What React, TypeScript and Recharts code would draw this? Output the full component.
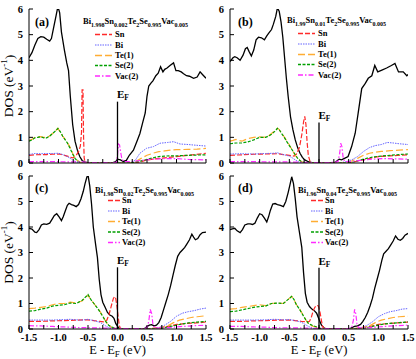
import React from 'react';
import { LineChart, Line, XAxis, YAxis, ReferenceLine, ReferenceDot, Legend } from 'recharts';

type P = [number, number][];

const xTicks = [-1.5, -1.25, -1, -0.75, -0.5, -0.25, 0, 0.25, 0.5, 0.75, 1, 1.25, 1.5];
const yTicks = [0, 1, 2, 3, 4, 5, 6];

// ---------- panel (a) ----------
const totalA: P = [[-1.5,4.1],[-1.45,4.3],[-1.4,4.6],[-1.35,4.85],[-1.3,4.92],[-1.25,4.9],[-1.2,4.82],[-1.15,4.75],[-1.12,4.85],[-1.08,5.3],[-1.04,5.75],[-1.01,6.1],[-0.98,5.85],[-0.95,5.1],[-0.9,4.4],[-0.86,3.9],[-0.83,3.6],[-0.8,2.6],[-0.76,1.5],[-0.72,0.85],[-0.68,0.5],[-0.64,0.25],[-0.6,0.1],[-0.55,0.03],[-0.5,0.01],[-0.4,0],[-0.1,0],[-0.03,0.05],[0,0.15],[0.05,0.12],[0.1,0.06],[0.15,0.1],[0.2,0.3],[0.27,0.5],[0.33,0.85],[0.38,1.15],[0.43,1.6],[0.47,1.95],[0.5,2.6],[0.53,3.0],[0.57,3.12],[0.6,3.2],[0.65,3.4],[0.69,3.5],[0.73,3.75],[0.77,3.55],[0.8,3.65],[0.84,3.7],[0.89,3.8],[0.95,3.9],[0.99,3.6],[1.03,3.6],[1.08,3.55],[1.12,3.48],[1.17,3.4],[1.22,3.38],[1.29,3.3],[1.35,3.35],[1.4,3.55],[1.44,3.45],[1.5,3.3]];
const snA: P = [[-1.5,0.3],[-1.4,0.32],[-1.3,0.33],[-1.2,0.33],[-1.1,0.34],[-1.0,0.35],[-0.95,0.33],[-0.9,0.3],[-0.85,0.27],[-0.8,0.22],[-0.75,0.2],[-0.7,0.3],[-0.66,0.45],[-0.63,0.65],[-0.61,1.2],[-0.6,2.85],[-0.585,2.85],[-0.575,1.0],[-0.565,0.2],[-0.55,0.03],[-0.5,0],[0.3,0],[0.4,0.05],[0.5,0.12],[0.6,0.15],[0.8,0.2],[1.0,0.25],[1.2,0.3],[1.5,0.38]];
const biA: P = [[-1.5,0.33],[-1.4,0.37],[-1.3,0.36],[-1.2,0.37],[-1.1,0.37],[-1.0,0.38],[-0.95,0.35],[-0.9,0.3],[-0.85,0.25],[-0.8,0.18],[-0.75,0.1],[-0.7,0.04],[-0.65,0.01],[-0.6,0],[0.2,0],[0.3,0.1],[0.38,0.38],[0.49,0.57],[0.61,0.64],[0.72,0.77],[0.85,0.8],[0.95,0.83],[1.06,0.74],[1.2,0.72],[1.29,0.7],[1.4,0.68],[1.5,0.66]];
const teA: P = [[-1.5,0.88],[-1.45,0.92],[-1.4,1.0],[-1.35,1.02],[-1.3,1.03],[-1.25,1.0],[-1.2,1.0],[-1.15,1.05],[-1.1,1.15],[-1.05,1.25],[-1.01,1.35],[-0.97,1.2],[-0.93,1.05],[-0.88,0.9],[-0.85,0.8],[-0.8,0.6],[-0.76,0.38],[-0.72,0.2],[-0.68,0.1],[-0.63,0.03],[-0.58,0],[0.2,0],[0.3,0.05],[0.4,0.18],[0.5,0.3],[0.6,0.38],[0.7,0.44],[0.8,0.47],[0.9,0.5],[1.0,0.52],[1.2,0.53],[1.35,0.54],[1.5,0.57]];
const seA: P = [[-1.5,0.85],[-1.45,0.9],[-1.4,0.98],[-1.35,1.0],[-1.3,1.02],[-1.25,0.98],[-1.2,0.98],[-1.15,1.05],[-1.1,1.15],[-1.05,1.25],[-1.01,1.35],[-0.97,1.22],[-0.93,1.05],[-0.88,0.88],[-0.85,0.78],[-0.8,0.55],[-0.76,0.35],[-0.72,0.18],[-0.68,0.08],[-0.63,0.02],[-0.58,0],[0.2,0],[0.3,0.03],[0.4,0.08],[0.5,0.14],[0.6,0.2],[0.7,0.25],[0.8,0.27],[0.9,0.28],[1.0,0.28],[1.2,0.3],[1.35,0.31],[1.5,0.32]];
const vacA: P = [[-1.5,0.05],[-1.0,0.05],[-0.6,0.04],[-0.5,0.02],[-0.1,0.01],[-0.02,0.02],[0,0.3],[0.015,0.74],[0.035,0.7],[0.055,0.4],[0.075,0.15],[0.11,0.05],[0.2,0.05],[0.4,0.1],[0.6,0.15],[0.8,0.17],[1.0,0.17],[1.2,0.14],[1.5,0.12]];

// ---------- panel (b) ----------
const totalB: P = [[-1.5,3.95],[-1.45,4.1],[-1.42,4.14],[-1.38,4.1],[-1.33,4.0],[-1.28,4.2],[-1.24,4.45],[-1.21,4.5],[-1.18,4.35],[-1.14,4.17],[-1.1,4.4],[-1.06,4.8],[-1.02,4.9],[-0.97,4.88],[-0.92,4.8],[-0.88,4.95],[-0.85,5.05],[-0.8,5.2],[-0.77,5.4],[-0.73,5.7],[-0.7,6.05],[-0.67,5.9],[-0.64,5.5],[-0.61,4.9],[-0.58,4.1],[-0.55,3.3],[-0.52,2.6],[-0.48,1.8],[-0.44,1.3],[-0.4,0.9],[-0.36,0.6],[-0.32,0.38],[-0.28,0.22],[-0.24,0.12],[-0.18,0.05],[-0.12,0.01],[-0.05,0],[0.25,0],[0.3,0.08],[0.34,0.15],[0.38,0.12],[0.43,0.18],[0.49,0.25],[0.55,0.64],[0.61,1.16],[0.66,1.94],[0.72,2.9],[0.78,3.1],[0.83,3.3],[0.89,3.4],[0.94,3.8],[0.99,3.55],[1.06,3.62],[1.14,3.7],[1.22,3.8],[1.28,3.88],[1.34,3.55],[1.42,3.55],[1.48,3.4],[1.5,3.45]];
const snB: P = [[-1.5,0.3],[-1.3,0.32],[-1.1,0.34],[-0.9,0.35],[-0.7,0.36],[-0.6,0.33],[-0.5,0.3],[-0.42,0.27],[-0.38,0.35],[-0.33,0.6],[-0.29,1.1],[-0.26,1.6],[-0.24,1.82],[-0.22,1.5],[-0.2,0.8],[-0.18,0.3],[-0.15,0.05],[-0.1,0],[0.5,0],[0.6,0.05],[0.7,0.1],[0.8,0.15],[0.9,0.2],[1.0,0.25],[1.2,0.28],[1.5,0.32]];
const biB: P = [[-1.5,0.35],[-1.3,0.36],[-1.1,0.35],[-0.9,0.37],[-0.75,0.38],[-0.7,0.4],[-0.65,0.35],[-0.55,0.3],[-0.5,0.27],[-0.45,0.2],[-0.4,0.12],[-0.35,0.05],[-0.3,0.02],[-0.25,0],[0.35,0],[0.45,0.05],[0.55,0.12],[0.65,0.25],[0.75,0.45],[0.85,0.6],[0.95,0.68],[1.05,0.72],[1.15,0.8],[1.25,0.78],[1.35,0.75],[1.5,0.72]];
const teB: P = [[-1.5,0.85],[-1.45,0.88],[-1.4,0.92],[-1.35,0.88],[-1.3,0.85],[-1.25,0.9],[-1.2,0.95],[-1.1,1.0],[-1.0,1.02],[-0.95,1.0],[-0.9,1.02],[-0.85,1.05],[-0.8,1.15],[-0.75,1.25],[-0.7,1.35],[-0.67,1.3],[-0.63,1.15],[-0.58,1.0],[-0.54,0.85],[-0.5,0.7],[-0.45,0.5],[-0.4,0.3],[-0.35,0.15],[-0.3,0.06],[-0.25,0.02],[-0.2,0],[0.45,0],[0.55,0.08],[0.65,0.18],[0.75,0.3],[0.85,0.38],[0.95,0.42],[1.05,0.45],[1.2,0.48],[1.35,0.5],[1.5,0.52]];
const seB: P = [[-1.5,0.75],[-1.4,0.78],[-1.3,0.78],[-1.2,0.82],[-1.1,0.9],[-1.0,1.0],[-0.95,1.0],[-0.9,1.0],[-0.85,1.05],[-0.8,1.12],[-0.75,1.22],[-0.7,1.35],[-0.67,1.3],[-0.63,1.15],[-0.58,0.98],[-0.54,0.82],[-0.5,0.68],[-0.45,0.5],[-0.4,0.32],[-0.35,0.15],[-0.3,0.06],[-0.25,0.02],[-0.2,0],[0.5,0],[0.6,0.05],[0.7,0.12],[0.8,0.18],[0.9,0.23],[1.0,0.26],[1.2,0.3],[1.35,0.33],[1.5,0.35]];
const vacB: P = [[-1.5,0.05],[-1.0,0.05],[-0.5,0.04],[-0.2,0.02],[0.2,0.02],[0.32,0.05],[0.35,0.4],[0.365,0.77],[0.385,0.65],[0.405,0.25],[0.43,0.06],[0.5,0.05],[0.7,0.1],[0.9,0.15],[1.1,0.17],[1.3,0.16],[1.5,0.15]];

// ---------- panel (c) ----------
const totalC: P = [[-1.5,3.95],[-1.45,3.92],[-1.4,3.8],[-1.37,3.78],[-1.33,3.9],[-1.29,4.08],[-1.25,4.12],[-1.2,4.1],[-1.15,4.15],[-1.11,4.3],[-1.07,4.45],[-1.03,4.52],[-0.99,4.4],[-0.95,4.25],[-0.92,4.4],[-0.89,4.6],[-0.85,4.85],[-0.82,4.93],[-0.78,4.88],[-0.74,4.85],[-0.7,4.8],[-0.66,4.88],[-0.62,5.1],[-0.58,5.4],[-0.55,5.7],[-0.52,5.95],[-0.5,6.05],[-0.47,5.6],[-0.44,4.9],[-0.41,4.0],[-0.37,3.3],[-0.34,2.8],[-0.31,1.95],[-0.28,1.35],[-0.25,1.05],[-0.21,0.85],[-0.17,0.65],[-0.13,0.55],[-0.09,0.5],[-0.06,0.42],[-0.03,0.22],[0,0.1],[0.03,0.03],[0.06,0],[0.45,0],[0.5,0.1],[0.54,0.15],[0.58,0.17],[0.62,0.12],[0.66,0.15],[0.7,0.25],[0.74,0.45],[0.78,0.75],[0.82,1.05],[0.86,1.35],[0.9,1.7],[0.94,2.1],[0.98,2.5],[1.02,2.85],[1.06,3.0],[1.1,3.1],[1.14,3.2],[1.18,3.35],[1.22,3.5],[1.26,3.72],[1.29,3.6],[1.32,3.5],[1.36,3.55],[1.4,3.7],[1.44,3.78],[1.5,3.8]];
const snC: P = [[-1.5,0.3],[-1.3,0.3],[-1.1,0.32],[-0.9,0.33],[-0.7,0.35],[-0.5,0.36],[-0.4,0.33],[-0.3,0.3],[-0.22,0.28],[-0.18,0.35],[-0.14,0.6],[-0.1,0.95],[-0.07,1.2],[-0.05,1.27],[-0.03,1.2],[-0.01,0.9],[0.01,0.5],[0.03,0.15],[0.05,0.02],[0.08,0],[0.5,0],[0.7,0.05],[0.9,0.12],[1.0,0.18],[1.2,0.22],[1.4,0.25],[1.5,0.28]];
const biC: P = [[-1.5,0.35],[-1.3,0.35],[-1.1,0.35],[-0.9,0.37],[-0.8,0.38],[-0.7,0.36],[-0.6,0.35],[-0.5,0.38],[-0.4,0.33],[-0.3,0.26],[-0.25,0.2],[-0.2,0.12],[-0.15,0.06],[-0.1,0.03],[-0.05,0.01],[0,0],[0.6,0],[0.7,0.05],[0.8,0.15],[0.9,0.3],[1.0,0.5],[1.1,0.62],[1.2,0.68],[1.3,0.72],[1.4,0.78],[1.5,0.82]];
const teC: P = [[-1.5,0.8],[-1.4,0.82],[-1.3,0.85],[-1.2,0.88],[-1.1,0.95],[-1.0,1.0],[-0.9,1.0],[-0.8,1.05],[-0.7,1.02],[-0.6,1.1],[-0.5,1.33],[-0.45,1.15],[-0.4,1.0],[-0.35,0.85],[-0.3,0.7],[-0.25,0.5],[-0.2,0.3],[-0.15,0.15],[-0.1,0.07],[-0.05,0.03],[0,0],[0.65,0],[0.75,0.05],[0.85,0.12],[0.95,0.25],[1.05,0.35],[1.15,0.4],[1.25,0.45],[1.35,0.48],[1.5,0.52]];
const seC: P = [[-1.5,0.7],[-1.4,0.72],[-1.3,0.78],[-1.2,0.82],[-1.1,0.9],[-1.0,0.93],[-0.9,0.95],[-0.8,1.02],[-0.7,1.0],[-0.6,1.12],[-0.5,1.35],[-0.45,1.15],[-0.4,1.0],[-0.35,0.85],[-0.3,0.68],[-0.25,0.5],[-0.2,0.3],[-0.15,0.15],[-0.1,0.08],[-0.05,0.04],[0,0.02],[0.05,0],[0.7,0],[0.8,0.05],[0.9,0.1],[1.0,0.15],[1.1,0.2],[1.2,0.24],[1.35,0.27],[1.5,0.3]];
const vacC: P = [[-1.5,0.13],[-1.3,0.12],[-1.1,0.1],[-0.9,0.08],[-0.7,0.06],[-0.5,0.05],[-0.3,0.04],[-0.1,0.03],[0.1,0.02],[0.45,0.02],[0.5,0.05],[0.53,0.3],[0.555,0.77],[0.58,0.6],[0.6,0.2],[0.63,0.05],[0.7,0.04],[0.9,0.06],[1.1,0.1],[1.3,0.13],[1.5,0.15]];

// ---------- panel (d) ----------
const totalD: P = [[-1.5,3.9],[-1.46,3.93],[-1.42,3.95],[-1.38,3.85],[-1.33,3.78],[-1.29,3.9],[-1.25,4.08],[-1.2,4.12],[-1.16,4.12],[-1.12,4.1],[-1.08,4.15],[-1.04,4.35],[-1.0,4.52],[-0.96,4.48],[-0.92,4.35],[-0.88,4.2],[-0.85,4.4],[-0.82,4.65],[-0.78,4.9],[-0.74,4.92],[-0.7,4.88],[-0.65,4.85],[-0.6,4.8],[-0.56,5.0],[-0.52,5.35],[-0.49,5.65],[-0.46,5.97],[-0.43,5.7],[-0.4,5.1],[-0.37,4.4],[-0.33,3.8],[-0.29,3.2],[-0.26,2.2],[-0.23,1.4],[-0.2,1.05],[-0.16,0.88],[-0.12,0.78],[-0.08,0.72],[-0.04,0.62],[0,0.38],[0.04,0.16],[0.08,0.05],[0.12,0.01],[0.16,0],[0.5,0],[0.55,0.05],[0.6,0.1],[0.65,0.12],[0.7,0.18],[0.74,0.3],[0.78,0.45],[0.82,0.65],[0.86,0.9],[0.9,1.2],[0.94,1.6],[0.98,1.95],[1.02,2.3],[1.06,2.7],[1.09,2.95],[1.13,3.05],[1.17,3.15],[1.21,3.3],[1.25,3.45],[1.29,3.65],[1.33,3.52],[1.37,3.48],[1.41,3.55],[1.45,3.68],[1.5,3.75]];
const snD: P = [[-1.5,0.3],[-1.3,0.3],[-1.1,0.32],[-0.9,0.33],[-0.7,0.35],[-0.5,0.35],[-0.4,0.33],[-0.3,0.3],[-0.2,0.28],[-0.16,0.3],[-0.13,0.45],[-0.1,0.7],[-0.07,0.85],[-0.04,0.93],[-0.01,0.9],[0.02,0.62],[0.04,0.35],[0.06,0.1],[0.09,0.02],[0.12,0],[0.5,0],[0.7,0.05],[0.9,0.12],[1.0,0.18],[1.2,0.22],[1.4,0.25],[1.5,0.27]];
const biD: P = [[-1.5,0.35],[-1.3,0.35],[-1.1,0.35],[-0.9,0.36],[-0.75,0.38],[-0.6,0.36],[-0.5,0.37],[-0.4,0.33],[-0.3,0.27],[-0.25,0.2],[-0.2,0.13],[-0.15,0.07],[-0.1,0.03],[-0.05,0.01],[0,0],[0.6,0],[0.7,0.05],[0.8,0.13],[0.9,0.28],[1.0,0.48],[1.1,0.6],[1.2,0.68],[1.3,0.72],[1.4,0.78],[1.5,0.8]];
const teD: P = [[-1.5,0.78],[-1.4,0.8],[-1.3,0.85],[-1.2,0.88],[-1.1,0.92],[-1.0,0.95],[-0.9,0.92],[-0.8,1.0],[-0.7,1.02],[-0.6,1.0],[-0.5,1.2],[-0.46,1.28],[-0.42,1.15],[-0.38,0.95],[-0.33,0.8],[-0.28,0.6],[-0.22,0.35],[-0.17,0.18],[-0.12,0.12],[-0.06,0.08],[0,0.03],[0.05,0],[0.65,0],[0.75,0.05],[0.85,0.12],[0.95,0.25],[1.05,0.35],[1.15,0.4],[1.25,0.45],[1.35,0.48],[1.5,0.5]];
const seD: P = [[-1.5,0.68],[-1.4,0.7],[-1.3,0.75],[-1.2,0.8],[-1.1,0.85],[-1.0,0.88],[-0.9,0.9],[-0.8,1.0],[-0.7,1.02],[-0.6,1.0],[-0.5,1.2],[-0.46,1.28],[-0.42,1.15],[-0.38,0.95],[-0.33,0.78],[-0.28,0.58],[-0.22,0.35],[-0.17,0.2],[-0.12,0.15],[-0.06,0.1],[0,0.05],[0.05,0],[0.7,0],[0.8,0.05],[0.9,0.1],[1.0,0.15],[1.1,0.2],[1.2,0.22],[1.35,0.25],[1.5,0.28]];
const vacD: P = [[-1.5,0.1],[-1.3,0.1],[-1.1,0.08],[-0.9,0.07],[-0.7,0.05],[-0.5,0.05],[-0.3,0.04],[-0.1,0.03],[0.1,0.02],[0.5,0.02],[0.55,0.05],[0.58,0.35],[0.6,0.77],[0.62,0.6],[0.64,0.2],[0.67,0.05],[0.75,0.04],[0.9,0.06],[1.1,0.1],[1.3,0.13],[1.5,0.15]];

// E_F marker heights
const efHeights = [2.39, 1.58, 2.42, 2.4];

// composition titles: [element, subscript]
const titleA: [string, string][] = [['Bi', '1.998'], ['Sn', '0.002'], ['Te', '2'], ['Se', '0.995'], ['Vac', '0.005']];
const titleB: [string, string][] = [['Bi', '1.99'], ['Sn', '0.01'], ['Te', '2'], ['Se', '0.995'], ['Vac', '0.005']];
const titleC: [string, string][] = [['Bi', '1.98'], ['Sn', '0.02'], ['Te', '2'], ['Se', '0.995'], ['Vac', '0.005']];
const titleD: [string, string][] = [['Bi', '1.96'], ['Sn', '0.04'], ['Te', '2'], ['Se', '0.995'], ['Vac', '0.005']];

const seriesNames = ['Sn', 'Bi', 'Te(1)', 'Se(2)', 'Vac(2)'];

const FONT = '"Liberation Serif", "DejaVu Serif", serif';
const STYLES = [
  { color: '#ff2a2a', dash: '5 2', w: 1.2 },
  { color: '#6464ff', dash: '1.5 1', w: 1 },
  { color: '#ffad33', dash: '7 3', w: 1.2 },
  { color: '#00a000', dash: '3 1.5', w: 1.2 },
  { color: '#ff2aff', dash: '5 2 1.5 2', w: 1.2 },
];

const toPts = (a: P) => a.map(([x, y]) => ({ x, y }));

interface LegendLayout {
  titleX: number; titleY: number; lx1: number; lx2: number; tx: number; rows: number[];
}

interface PanelProps {
  left: number; top: number; width: number; height: number;
  mTop: number; mRight: number; yW: number; xH: number;
  bottomLabels: boolean; yTitle: boolean;
  letter: string; letterX: number; letterY: number;
  title: [string, string][]; lg: LegendLayout;
  ef: number; efDy: number;
  total: P; parts: P[];
}

const fmtX = (v: number) => (Math.abs(v * 2 - Math.round(v * 2)) < 1e-6 ? v.toFixed(1) : '');
const blank = () => '';

function Panel(p: PanelProps) {
  const tickStyle = { fontSize: 10.5, fontWeight: 'bold' as const, fill: '#000', fontFamily: FONT };
  const legendContent = () => (
    <svg width={p.width} height={p.height} style={{ position: 'absolute', left: 0, top: 0, overflow: 'visible' }}>
      <text x={p.letterX} y={p.letterY} fontFamily={FONT} fontSize={12} fontWeight="bold" fill="#000">({p.letter})</text>
      <text x={p.lg.titleX} y={p.lg.titleY} fontFamily={FONT} fontWeight="bold" fill="#000">
        {p.title.map(([el, sub], i) => (
          <React.Fragment key={i}>
            <tspan dy={i === 0 ? 0 : -2.5} fontSize={8.5}>{el}</tspan>
            <tspan dy={2.5} fontSize={6}>{sub}</tspan>
          </React.Fragment>
        ))}
      </text>
      {seriesNames.map((n, i) => (
        <g key={n}>
          <line x1={p.lg.lx1} x2={p.lg.lx2} y1={p.lg.rows[i] + 0.5} y2={p.lg.rows[i] + 0.5} stroke={STYLES[i].color}
            strokeWidth={STYLES[i].w + 0.2} strokeDasharray={STYLES[i].dash} />
          <text x={p.lg.tx} y={p.lg.rows[i] + 3} fontFamily={FONT} fontSize={8.5} fontWeight="bold" fill="#000">{n}</text>
        </g>
      ))}
    </svg>
  );
  const yLabel = (props: any) => {
    const vb = props.viewBox || {};
    const cx = (vb.x || 0) + 8.5;
    const cy = (vb.y || 0) + (vb.height || 0) / 2;
    return (
      <text x={cx} y={cy} transform={`rotate(-90, ${cx}, ${cy})`} textAnchor="middle" dominantBaseline="central"
        fontFamily={FONT} fontSize={13.5} fill="#000">
        DOS (eV<tspan dy={-5} fontSize={9}>-1</tspan><tspan dy={5}>)</tspan>
      </text>
    );
  };
  const xLabel = (props: any) => {
    const vb = props.viewBox || {};
    const cx = (vb.x || 0) + (vb.width || 0) / 2;
    const y = (vb.y || 0) + 25;
    return (
      <text x={cx} y={y} textAnchor="middle" fontFamily={FONT} fontSize={12.5} fill="#000">
        E - E<tspan dy={3} fontSize={9}>F</tspan><tspan dy={-3}> (eV)</tspan>
      </text>
    );
  };
  const efLabel = (props: any) => {
    const vb = props.viewBox || {};
    const x = (vb.x || 0) + (vb.width || 0) / 2;
    const y = (vb.y || 0) + (vb.height || 0) / 2;
    return (
      <text x={x - 0.5} y={y + p.efDy} fontFamily={FONT} fontSize={11} fontWeight="bold" fill="#000">
        E<tspan dy={2} fontSize={7.5}>F</tspan>
      </text>
    );
  };
  return (
    <div style={{ position: 'absolute', left: p.left, top: p.top, width: p.width, height: p.height }}>
      <LineChart width={p.width} height={p.height} margin={{ top: p.mTop, right: p.mRight, bottom: 0, left: 0 }}
        style={{ overflow: 'visible' }}>
        <XAxis xAxisId="b" dataKey="x" type="number" domain={[-1.5, 1.5]} ticks={xTicks} interval={0}
          allowDataOverflow height={p.xH} tickSize={-4} tickMargin={9} tickFormatter={p.bottomLabels ? fmtX : blank}
          tick={tickStyle} stroke="#000" axisLine={{ stroke: '#000', strokeWidth: 1 }} tickLine={{ stroke: '#000' }}
          label={p.bottomLabels ? xLabel : undefined} />
        <XAxis xAxisId="t" orientation="top" dataKey="x" type="number" domain={[-1.5, 1.5]} ticks={xTicks} interval={0}
          allowDataOverflow height={0} tickSize={-4} tickFormatter={blank} tick={tickStyle}
          axisLine={{ stroke: '#000', strokeWidth: 1 }} tickLine={{ stroke: '#000' }} />
        <YAxis yAxisId="l" type="number" domain={[0, 6]} ticks={yTicks} interval={0} allowDataOverflow width={p.yW}
          tickSize={-4} tickMargin={10} tick={tickStyle} axisLine={{ stroke: '#000', strokeWidth: 1 }}
          tickLine={{ stroke: '#000' }} label={p.yTitle ? yLabel : undefined} />
        <YAxis yAxisId="r" orientation="right" type="number" domain={[0, 6]} ticks={yTicks} interval={0}
          allowDataOverflow width={0} tickSize={-4} tickFormatter={blank} tick={tickStyle}
          axisLine={{ stroke: '#000', strokeWidth: 1 }} tickLine={{ stroke: '#000' }} />
        <Line xAxisId="b" yAxisId="l" data={toPts(p.total)} dataKey="y" type="linear" dot={false} stroke="#000"
          strokeWidth={1.3} isAnimationActive={false} legendType="none" />
        {p.parts.map((d, i) => (
          <Line key={i} xAxisId="b" yAxisId="l" data={toPts(d)} dataKey="y" name={seriesNames[i]} type="linear"
            dot={false} stroke={STYLES[i].color} strokeWidth={STYLES[i].w} strokeDasharray={STYLES[i].dash}
            isAnimationActive={false} />
        ))}
        <ReferenceLine xAxisId="b" yAxisId="l" segment={[{ x: 0, y: 0 }, { x: 0, y: p.ef }]} stroke="#000"
          strokeWidth={1.3} />
        <ReferenceDot xAxisId="b" yAxisId="l" x={0} y={p.ef} r={0} fill="none" stroke="none" label={efLabel} />
        <Legend layout="horizontal" verticalAlign="middle" align="center" content={legendContent}
          wrapperStyle={{ position: 'absolute', left: 0, top: 0, width: p.width, height: p.height, pointerEvents: 'none' }} />
      </LineChart>
    </div>
  );
}

export default function App() {
  return (
    <div style={{ position: 'absolute', left: 0, top: 0, width: 416, height: 359, background: '#fff' }}>
      <Panel left={0} top={0} width={216} height={170} mTop={9} mRight={10} yW={29} xH={7}
        bottomLabels={false} yTitle letter="a" letterX={35} letterY={26}
        title={titleA} lg={{ titleX: 83, titleY: 24, lx1: 95, lx2: 112, tx: 115, rows: [34, 44.5, 55, 65, 75.5] }}
        ef={efHeights[0]} efDy={-3.5} total={totalA} parts={[snA, biA, teA, seA, vacA]} />
      <Panel left={210} top={0} width={206} height={170} mTop={9} mRight={8} yW={20} xH={7}
        bottomLabels={false} yTitle={false} letter="b" letterX={28} letterY={26}
        title={titleB} lg={{ titleX: 77, titleY: 23, lx1: 88, lx2: 105, tx: 108, rows: [33, 43.5, 54, 64, 74.5] }}
        ef={efHeights[1]} efDy={-3} total={totalB} parts={[snB, biB, teB, seB, vacB]} />
      <Panel left={0} top={170} width={216} height={189} mTop={6} mRight={10} yW={29} xH={30}
        bottomLabels yTitle letter="c" letterX={35} letterY={22}
        title={titleC} lg={{ titleX: 95, titleY: 23, lx1: 108, lx2: 120, tx: 122, rows: [30, 40.5, 51, 61.5, 72] }}
        ef={efHeights[2]} efDy={-3} total={totalC} parts={[snC, biC, teC, seC, vacC]} />
      <Panel left={210} top={170} width={206} height={189} mTop={6} mRight={8} yW={20} xH={30}
        bottomLabels yTitle={false} letter="d" letterX={28} letterY={22}
        title={titleD} lg={{ titleX: 88, titleY: 23, lx1: 101, lx2: 113, tx: 115, rows: [30, 40.5, 51, 61.5, 72] }}
        ef={efHeights[3]} efDy={-3} total={totalD} parts={[snD, biD, teD, seD, vacD]} />
    </div>
  );
}
